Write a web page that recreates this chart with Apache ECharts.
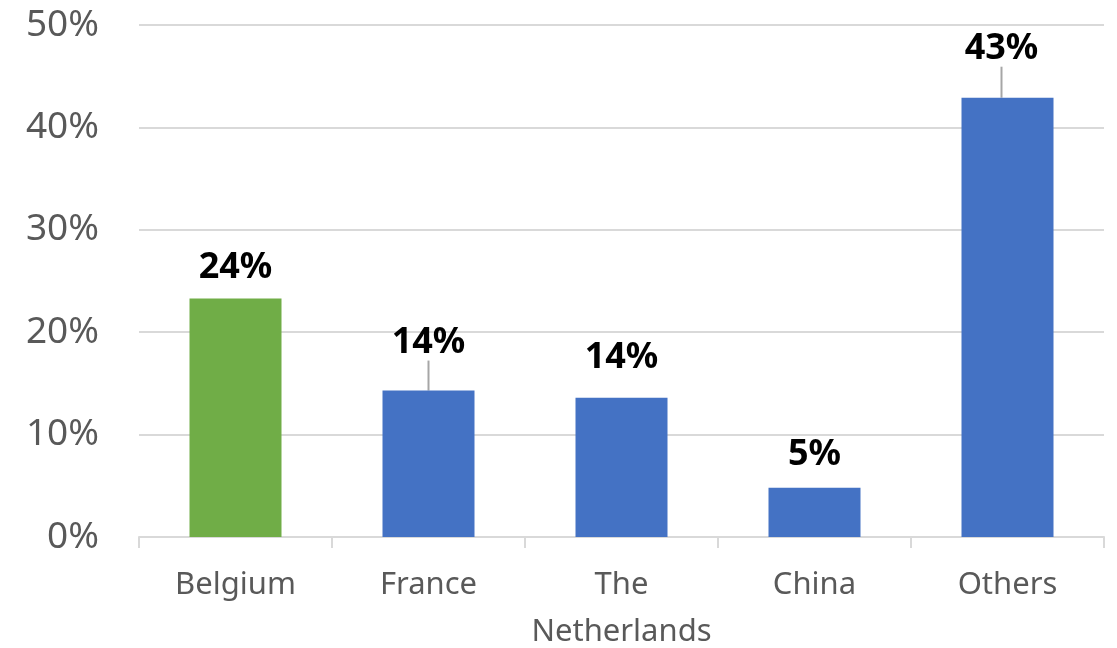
<!DOCTYPE html>
<html><head><meta charset="utf-8">
<script src="https://cdn.jsdelivr.net/npm/echarts@6/dist/echarts.min.js"></script>
<style>html,body{margin:0;padding:0;background:#fff}#c{width:1117px;height:648px}</style>
</head><body><div id="c"></div>
<script>
var categories = ['Belgium', 'France', 'The\nNetherlands', 'China', 'Others'];
var values = [23.3, 14.3, 13.6, 4.8, 42.9];
var labelTexts = ['24%', '14%', '14%', '5%', '43%'];
var barColors = ['#70AD47', '#4472C4', '#4472C4', '#4472C4', '#4472C4'];
var yTicks = [0, 10, 20, 30, 40, 50];

var labelDist = [13, 5, 22, 15, 5];
var leaderShift = [null, [0, -25], null, null, [-6, -26]];

var chart = echarts.init(document.getElementById('c'), null, {renderer: 'canvas'});
var font = '"Noto Sans", "Open Sans", sans-serif';
chart.setOption({
  animation: false,
  grid: {left: 139, right: 13, top: 25, bottom: 111, outerBoundsMode: 'none', containLabel: false},
  xAxis: {
    type: 'category', data: categories,
    axisLine: {lineStyle: {color: '#d9d9d9', width: 2}},
    axisTick: {show: true, length: 11, lineStyle: {color: '#d9d9d9', width: 2}},
    axisLabel: {interval: 0, color: '#595959', fontSize: 31, fontFamily: font, margin: 25, lineHeight: 47}
  },
  yAxis: {
    type: 'value', min: yTicks[0], max: yTicks[yTicks.length - 1], interval: 10,
    axisLine: {show: false}, axisTick: {show: false},
    splitLine: {lineStyle: {color: '#d9d9d9', width: 2}},
    axisLabel: {color: '#595959', fontSize: 37, fontFamily: font, margin: 40, formatter: '{value}%'}
  },
  series: [{
    type: 'bar', barWidth: 92,
    data: values.map(function (v, i) {
      return {
        value: v,
        itemStyle: {color: barColors[i]},
        label: {distance: labelDist[i]},
        labelLine: {show: !!leaderShift[i], lineStyle: {color: '#a6a6a6', width: 2}}
      };
    }),
    label: {
      show: true, position: 'top', color: '#000', fontWeight: 'bold', fontSize: 36, fontFamily: font,
      formatter: function (p) { return labelTexts[p.dataIndex]; }
    },
    labelLayout: function (p) {
      var s = leaderShift[p.dataIndex];
      return s ? {dx: s[0], dy: s[1]} : {};
    }
  }]
});
</script></body></html>
